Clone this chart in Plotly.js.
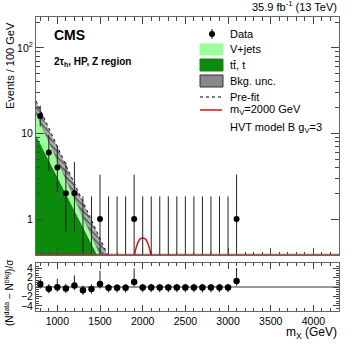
<!DOCTYPE html>
<html>
<head>
<meta charset="utf-8">
<script src="https://cdn.plot.ly/plotly-3.0.1.min.js"></script>
<style>
  body { margin: 0; background: #fff; }
  #plot { width: 357px; height: 347px; }
</style>
</head>
<body>
<div id="plot"></div>
<script>
// data points (bin centres, 100 GeV bins)
const binX = [800, 900, 1000, 1100, 1200, 1300, 1400, 1500, 1600, 1700, 1800, 1900,
  2000, 2100, 2200, 2300, 2400, 2500, 2600, 2700, 2800, 2900, 3000, 3100];
const counts = [16, 6, 4, 2, 2, 0, 0, 1, 0, 0, 0, 1,
  0, 0, 0, 0, 0, 0, 0, 0, 0, 0, 0, 1];
const errUp = [5.10, 3.62, 3.16, 2.64, 2.64, 1.84, 1.84, 2.30, 1.84, 1.84, 1.84, 2.30,
  1.84, 1.84, 1.84, 1.84, 1.84, 1.84, 1.84, 1.84, 1.84, 1.84, 1.84, 2.30];
const errDn = [3.96, 2.38, 1.91, 1.29, 1.29, 0, 0, 0.83, 0, 0, 0, 0.83,
  0, 0, 0, 0, 0, 0, 0, 0, 0, 0, 0, 0.83];

// background fit curves
const bkgX = [750, 800, 900, 1000, 1100, 1200, 1300, 1400, 1500, 1600, 1700];
const ttbar = [9.5, 7.6, 4.9, 3.15, 2.0, 1.3, 0.83, 0.53, 0.34, 0.21, 0.13];
const total = [20, 15.5, 9.3, 5.6, 3.4, 2.05, 1.25, 0.76, 0.46, 0.28, 0.17];
const bandLo = [17, 13.2, 8.0, 4.8, 2.9, 1.75, 1.06, 0.64, 0.39, 0.24, 0.14];
const bandHi = [23, 18, 10.9, 6.6, 4.0, 2.45, 1.5, 0.92, 0.56, 0.34, 0.21];
const prefit = [24, 19, 11.6, 7.0, 4.3, 2.6, 1.6, 0.98, 0.6, 0.37, 0.22];

// signal m_V = 2000 GeV
const sigX = [1850, 1900, 1925, 1950, 1975, 2000, 2025, 2050, 2075, 2100, 2150];
const sigY = [0.1, 0.36, 0.47, 0.55, 0.59, 0.6, 0.59, 0.55, 0.47, 0.36, 0.1];

// pulls
const pull = [0.7, -0.35, 0.0, -0.3, 0.35, -0.65, -0.4, 0.7, -0.15, -0.15, -0.15, 1.1,
  -0.1, -0.1, -0.1, -0.1, -0.1, -0.1, -0.1, -0.1, -0.1, -0.1, -0.1, 1.3];
const pullUp = [1.0, 1.0, 1.8, 1.0, 2.15, 1.0, 1.0, 2.8, 0.8, 0.8, 0.8, 2.9,
  0.8, 0.8, 0.8, 0.8, 0.8, 0.8, 0.8, 0.8, 0.8, 0.8, 0.8, 2.8];
const pullDn = [1.0, 1.0, 1.0, 1.0, 1.0, 1.0, 1.0, 1.0, 1.0, 1.0, 1.0, 1.0,
  1.0, 1.0, 1.0, 1.0, 1.0, 1.0, 1.0, 1.0, 1.0, 1.0, 1.0, 1.0];

const lightGreen = '#99ff99';
const darkGreen = '#0b8a0b';
const FONT = 'Liberation Sans, Arial, sans-serif';

// nonzero bins get markers, empty bins only an upper error line
let nzX = [], nzY = [], nzUp = [], nzDn = [];
let zX = [], zY = [];
binX.forEach(function (x, i) {
  if (counts[i] > 0) {
    nzX.push(x); nzY.push(counts[i]); nzUp.push(errUp[i]); nzDn.push(errDn[i]);
  } else {
    zX.push(x, x, null);
    zY.push(0.01, counts[i] + errUp[i], null);
  }
});

let traces = [
  { x: bkgX, y: ttbar, type: 'scatter', mode: 'lines', fill: 'tozeroy',
    fillcolor: darkGreen, line: { width: 0, color: darkGreen }, xaxis: 'x', yaxis: 'y' },
  { x: bkgX, y: total, type: 'scatter', mode: 'lines', fill: 'tonexty',
    fillcolor: lightGreen, line: { width: 0, color: lightGreen }, xaxis: 'x', yaxis: 'y' },
  { x: bkgX, y: bandLo, type: 'scatter', mode: 'lines',
    line: { width: 0.5, color: '#777' }, xaxis: 'x', yaxis: 'y' },
  { x: bkgX, y: bandHi, type: 'scatter', mode: 'lines', fill: 'tonexty',
    fillcolor: 'rgba(140,140,140,0.75)',
    fillpattern: { shape: '\\', fgcolor: '#444', bgcolor: 'rgba(150,150,150,0.7)', size: 4, solidity: 0.3 },
    line: { width: 0.5, color: '#777' }, xaxis: 'x', yaxis: 'y' },
  { x: bkgX, y: prefit, type: 'scatter', mode: 'lines',
    line: { width: 1, color: '#000', dash: 'dot' }, xaxis: 'x', yaxis: 'y' },
  { x: sigX, y: sigY, type: 'scatter', mode: 'lines', line: { width: 1.5, color: '#dd1111', shape: 'spline' },
    xaxis: 'x', yaxis: 'y' },
  { x: zX, y: zY, type: 'scatter', mode: 'lines', line: { width: 1, color: '#222' },
    xaxis: 'x', yaxis: 'y' },
  { x: nzX, y: nzY, type: 'scatter', mode: 'markers',
    marker: { color: '#000', size: 6 },
    error_y: { type: 'data', symmetric: false, array: nzUp, arrayminus: nzDn, width: 0, thickness: 1, color: '#222' },
    xaxis: 'x', yaxis: 'y' },
  { x: binX, y: pull, type: 'scatter', mode: 'markers',
    marker: { color: '#000', size: 6.5 },
    error_y: { type: 'data', symmetric: false, array: pullUp, arrayminus: pullDn, width: 0, thickness: 1, color: '#222' },
    xaxis: 'x2', yaxis: 'y2' }
];

// pixel -> paper helpers for the hand-made legend
const L = 36, R = 339, T = 17, B = 311;
function px(v) { return (v - L) / (R - L); }
function py(v) { return (B - v) / (B - T); }

const legText = [
  ['Data', 34], ['V+jets', 49], ['tt\u0304, t', 65], ['Bkg. unc.', 81],
  ['Pre-fit', 97], ['m<sub>V</sub>=2000 GeV', 110], ['HVT model B g<sub>V</sub>=3', 128]
];

let annotations = legText.map(function (d) {
  return { xref: 'paper', yref: 'paper', x: px(228), y: py(d[1]), text: d[0],
    showarrow: false, xanchor: 'left', yanchor: 'middle', font: { family: FONT, size: 11, color: '#000' } };
});

annotations.push(
  { xref: 'paper', yref: 'paper', x: 1, y: py(6), text: '35.9 fb<sup>-1</sup> (13 TeV)',
    showarrow: false, xanchor: 'right', yanchor: 'middle', font: { family: FONT, size: 11, color: '#000' } },
  { xref: 'paper', yref: 'paper', x: px(52), y: py(35), text: '<b>CMS</b>',
    showarrow: false, xanchor: 'left', yanchor: 'middle', font: { family: FONT, size: 14, color: '#000' } },
  { xref: 'paper', yref: 'paper', x: px(52), y: py(62), text: '<b>2\u03c4<sub>h</sub>, HP, Z region</b>',
    showarrow: false, xanchor: 'left', yanchor: 'middle', font: { family: FONT, size: 10, color: '#000' } },
  { xref: 'paper', yref: 'paper', x: px(10), y: py(66), text: 'Events / 100 GeV', textangle: -90,
    showarrow: false, xanchor: 'center', yanchor: 'middle', font: { family: FONT, size: 11, color: '#000' } },
  { xref: 'paper', yref: 'paper', x: px(9), y: py(293), text: '(N<sup>data</sup> \u2212 N<sup>bkg</sup>)/\u03c3', textangle: -90,
    showarrow: false, xanchor: 'center', yanchor: 'middle', font: { family: FONT, size: 10, color: '#000' } },
  { xref: 'paper', yref: 'paper', x: 1, y: py(333), text: 'm<sub>X</sub> (GeV)',
    showarrow: false, xanchor: 'right', yanchor: 'middle', font: { family: FONT, size: 12, color: '#000' } }
);

let shapes = [
  // legend entries
  { type: 'line', xref: 'paper', yref: 'paper', x0: px(212), x1: px(212), y0: py(29), y1: py(39), line: { color: '#000', width: 1 } },
  { type: 'circle', xref: 'paper', yref: 'paper', x0: px(209), x1: px(215), y0: py(31), y1: py(37), fillcolor: '#000', line: { width: 0 } },
  { type: 'rect', xref: 'paper', yref: 'paper', x0: px(200), x1: px(223), y0: py(44), y1: py(55), fillcolor: lightGreen, line: { color: lightGreen, width: 1 } },
  { type: 'rect', xref: 'paper', yref: 'paper', x0: px(200), x1: px(223), y0: py(59), y1: py(71), fillcolor: darkGreen, line: { color: darkGreen, width: 1 } },
  { type: 'rect', xref: 'paper', yref: 'paper', x0: px(200), x1: px(223), y0: py(75), y1: py(87), fillcolor: '#888', line: { color: '#333', width: 1 } },
  { type: 'line', xref: 'paper', yref: 'paper', x0: px(200), x1: px(222), y0: py(97), y1: py(97), line: { color: '#000', width: 1, dash: 'dot' } },
  { type: 'line', xref: 'paper', yref: 'paper', x0: px(200), x1: px(222), y0: py(110), y1: py(110), line: { color: '#dd1111', width: 1.5 } },
  // signal tail along the bottom of the upper frame
  { type: 'line', xref: 'x', yref: 'y domain', x0: 750, x1: 4300, y0: 0.003, y1: 0.003, line: { color: '#a33', width: 1 } }
];

const logMinor = [2, 3, 4, 5, 6, 7, 8, 9, 20, 30, 40, 50, 60, 70, 80, 90, 200];
const axCommon = {
  showline: true, linecolor: '#666', linewidth: 1, mirror: 'ticks', ticks: 'inside',
  tickcolor: '#444', showgrid: false, zeroline: false,
  tickfont: { family: FONT, size: 10.5, color: '#000' }
};

let layout = {
  width: 357, height: 347,
  margin: { l: L, r: 357 - R, t: T, b: 347 - B, pad: 0 },
  paper_bgcolor: '#fff', plot_bgcolor: '#fff',
  showlegend: false,
  xaxis: Object.assign({}, axCommon, {
    domain: [0, 1], anchor: 'y', range: [750, 4300], showticklabels: false,
    dtick: 500, tick0: 1000, ticklen: 7,
    minor: { dtick: 100, tick0: 0, ticks: 'inside', ticklen: 3.5, tickcolor: '#444' }
  }),
  yaxis: Object.assign({}, axCommon, {
    domain: [py(255), 1], anchor: 'x', type: 'log', range: [-0.42, 2.36],
    tickmode: 'array', tickvals: [1, 10, 100], ticktext: ['1', '10', '10<sup>2</sup>'], ticklen: 8,
    minor: { tickmode: 'array', tickvals: logMinor, ticks: 'inside', ticklen: 4, tickcolor: '#444' }
  }),
  xaxis2: Object.assign({}, axCommon, {
    domain: [0, 1], anchor: 'y2', range: [750, 4300],
    dtick: 500, tick0: 1000, ticklen: 6,
    minor: { dtick: 100, tick0: 0, ticks: 'inside', ticklen: 3, tickcolor: '#444' }
  }),
  yaxis2: Object.assign({}, axCommon, {
    domain: [0, py(263.3)], anchor: 'x2', range: [-5.1, 5.1],
    tickmode: 'array', tickvals: [-4, -2, 0, 2, 4], ticktext: ['\u22124', '\u22122', '0', '2', '4'], ticklen: 6,
    zeroline: true, zerolinecolor: '#999', zerolinewidth: 1.5,
    minor: { dtick: 0.5, tick0: 0, ticks: 'inside', ticklen: 3, tickcolor: '#444' }
  }),
  annotations: annotations,
  shapes: shapes
};

Plotly.newPlot('plot', traces, layout, { staticPlot: true });
</script>
</body>
</html>
